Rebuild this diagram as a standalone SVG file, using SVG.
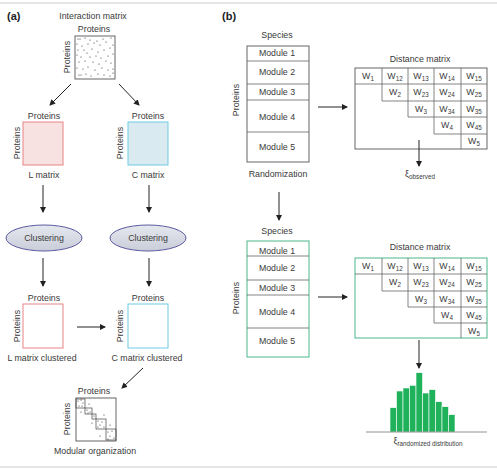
<svg xmlns="http://www.w3.org/2000/svg" width="497" height="470" viewBox="0 0 497 470">
<defs>
<marker id="ah" markerWidth="6" markerHeight="6" refX="5" refY="3" orient="auto" markerUnits="userSpaceOnUse">
<path d="M0,0 L6,3 L0,6 z" fill="#222"/>
</marker>
<linearGradient id="cg" x1="0" y1="0" x2="0" y2="1">
<stop offset="0" stop-color="#e6e8ef"/>
<stop offset="1" stop-color="#c9cdd9"/>
</linearGradient>
<style>
text{font-family:"Liberation Sans",Arial,sans-serif;fill:#3a3a3a;font-size:8.8px}
.c{text-anchor:middle}
.lab{font-weight:bold;font-size:11px;fill:#222}
.sub{font-size:6.3px}
.ar{stroke:#222;stroke-width:1;fill:none;marker-end:url(#ah)}
.box{fill:#fff;stroke:#555;stroke-width:0.9}
.gbox{fill:#fff;stroke:#4cb68c;stroke-width:1}
.ln{stroke:#666;stroke-width:0.8;fill:none}
.gln{stroke:#4cb68c;stroke-width:1;fill:none}
.dot{fill:#333}
.pink{fill:#f7e1e1;stroke:#e88383;stroke-width:1}
.pinkw{fill:#fff;stroke:#e88383;stroke-width:1}
.blue{fill:#d9eaf0;stroke:#6ccbe2;stroke-width:1}
.bluew{fill:#fff;stroke:#6ccbe2;stroke-width:1}
.ell{fill:url(#cg);stroke:#5b5ba0;stroke-width:1}
.bar{fill:#1fb25a;stroke:#fff;stroke-width:0.6}
</style>
</defs>
<line x1="0" y1="3" x2="497" y2="3" stroke="#ccc" stroke-width="1"/>
<line x1="0" y1="467" x2="497" y2="467" stroke="#ccc" stroke-width="1"/>
<text class="lab" x="7" y="20">(a)</text>
<text class="lab" x="222" y="20">(b)</text>

<g id="interaction-matrix">
<text class="c" x="93" y="19">Interaction matrix</text>
<text class="c" x="94" y="32">Proteins</text>
<text class="c" transform="translate(70,57) rotate(-90)">Proteins</text>
<rect class="box" x="75" y="36" width="40" height="43"/>
<g class="dot">
<circle cx="78" cy="39" r="0.6"/><circle cx="80" cy="39" r="0.6"/><circle cx="85" cy="38" r="0.6"/><circle cx="90" cy="40" r="0.6"/><circle cx="97" cy="41" r="0.6"/><circle cx="103" cy="39" r="0.6"/><circle cx="111" cy="38" r="0.6"/>
<circle cx="77" cy="44" r="0.6"/><circle cx="82" cy="46" r="0.6"/><circle cx="88" cy="44" r="0.6"/><circle cx="94" cy="43" r="0.6"/><circle cx="100" cy="45" r="0.6"/><circle cx="106" cy="42" r="0.6"/><circle cx="113" cy="45" r="0.6"/>
<circle cx="78" cy="50" r="0.6"/><circle cx="84" cy="50" r="0.6"/><circle cx="87" cy="53" r="0.6"/><circle cx="92" cy="49" r="0.6"/><circle cx="98" cy="52" r="0.6"/><circle cx="104" cy="50" r="0.6"/><circle cx="110" cy="48" r="0.6"/>
<circle cx="77" cy="55" r="0.6"/><circle cx="81" cy="57" r="0.6"/><circle cx="90" cy="57" r="0.6"/><circle cx="96" cy="56" r="0.6"/><circle cx="101" cy="58" r="0.6"/><circle cx="108" cy="56" r="0.6"/><circle cx="113" cy="54" r="0.6"/>
<circle cx="79" cy="62" r="0.6"/><circle cx="85" cy="61" r="0.6"/><circle cx="93" cy="62" r="0.6"/><circle cx="99" cy="64" r="0.6"/><circle cx="106" cy="61" r="0.6"/><circle cx="111" cy="63" r="0.6"/>
<circle cx="77" cy="68" r="0.6"/><circle cx="83" cy="69" r="0.6"/><circle cx="88" cy="67" r="0.6"/><circle cx="95" cy="70" r="0.6"/><circle cx="102" cy="68" r="0.6"/><circle cx="108" cy="70" r="0.6"/><circle cx="113" cy="69" r="0.6"/>
<circle cx="79" cy="75" r="0.6"/><circle cx="81" cy="75" r="0.6"/><circle cx="86" cy="74" r="0.6"/><circle cx="91" cy="76" r="0.6"/><circle cx="98" cy="74" r="0.6"/><circle cx="104" cy="75" r="0.6"/><circle cx="110" cy="76" r="0.6"/><circle cx="113" cy="73" r="0.6"/>
</g>
</g>

<g id="l-matrix">
<text class="c" x="44" y="119">Proteins</text>
<text class="c" transform="translate(20,143) rotate(-90)">Proteins</text>
<rect class="pink" x="23" y="122" width="40" height="43"/>
<text class="c" x="44" y="178">L matrix</text>
</g>
<g id="c-matrix">
<text class="c" x="148" y="119">Proteins</text>
<text class="c" transform="translate(123,143) rotate(-90)">Proteins</text>
<rect class="blue" x="128" y="122" width="40" height="43"/>
<text class="c" x="148" y="178">C matrix</text>
</g>
<g id="clustering-l">
<ellipse class="ell" cx="44" cy="238" rx="38" ry="13"/>
<text class="c" x="44" y="241">Clustering</text>
</g>
<g id="clustering-c">
<ellipse class="ell" cx="148" cy="238" rx="38" ry="13"/>
<text class="c" x="148" y="241">Clustering</text>
</g>
<g id="l-clustered">
<text class="c" x="44" y="301">Proteins</text>
<text class="c" transform="translate(20,326) rotate(-90)">Proteins</text>
<rect class="pinkw" x="23" y="304" width="40" height="44"/>
<text class="c" x="42" y="361">L matrix clustered</text>
</g>
<g id="c-clustered">
<text class="c" x="148" y="301">Proteins</text>
<text class="c" transform="translate(123,326) rotate(-90)">Proteins</text>
<rect class="bluew" x="128" y="304" width="40" height="44"/>
<text class="c" x="147" y="361">C matrix clustered</text>
</g>
<g id="modular-organization">
<text class="c" x="94" y="394">Proteins</text>
<text class="c" transform="translate(70,419) rotate(-90)">Proteins</text>
<rect class="box" x="76" y="398" width="40" height="43"/>
<g fill="none" stroke="#444" stroke-width="0.7">
<rect x="76" y="399" width="9" height="9"/>
<rect x="85" y="408" width="7" height="6"/>
<rect x="92" y="414" width="4" height="5"/>
<rect x="96" y="419" width="10" height="10"/>
<rect x="106" y="429" width="10" height="11"/>
</g>
<g class="dot">
<circle cx="78" cy="401" r="0.6"/><circle cx="81" cy="400" r="0.6"/><circle cx="83" cy="403" r="0.6"/><circle cx="79" cy="406" r="0.6"/><circle cx="82" cy="406" r="0.6"/>
<circle cx="87" cy="410" r="0.6"/><circle cx="90" cy="412" r="0.6"/><circle cx="88" cy="413" r="0.6"/>
<circle cx="94" cy="416" r="0.6"/>
<circle cx="98" cy="421" r="0.6"/><circle cx="102" cy="422" r="0.6"/><circle cx="100" cy="425" r="0.6"/><circle cx="104" cy="427" r="0.6"/><circle cx="98" cy="427" r="0.6"/>
<circle cx="108" cy="432" r="0.6"/><circle cx="112" cy="431" r="0.6"/><circle cx="110" cy="436" r="0.6"/><circle cx="114" cy="438" r="0.6"/><circle cx="108" cy="439" r="0.6"/>
<circle cx="89" cy="404" r="0.6"/><circle cx="81" cy="412" r="0.6"/><circle cx="104" cy="415" r="0.6"/><circle cx="92" cy="423" r="0.6"/><circle cx="110" cy="425" r="0.6"/><circle cx="100" cy="436" r="0.6"/>
</g>
<text class="c" x="95" y="454">Modular organization</text>
</g>

<g id="species-observed">
<text class="c" x="277" y="38">Species</text>
<text class="c" transform="translate(239,100) rotate(-90)">Proteins</text>
<rect class="box" x="247" y="46" width="62" height="116"/>
<path class="ln" d="M247,61H309M247,84H309M247,100H309M247,132H309"/>
<text class="c" x="277" y="56">Module 1</text>
<text class="c" x="277" y="75">Module 2</text>
<text class="c" x="277" y="95">Module 3</text>
<text class="c" x="277" y="120">Module 4</text>
<text class="c" x="277" y="150">Module 5</text>
<text class="c" x="278" y="177">Randomization</text>
</g>

<g id="distance-matrix-observed">
<text class="c" x="420" y="62">Distance matrix</text>
<rect class="box" x="355" y="68" width="132" height="81"/>
<path class="ln" d="M355,84H487M382,68V101H487M408,68V117H487M434,68V134H487M461,68V149"/>
<text class="c" x="368" y="79">W<tspan class="sub" dy="2">1</tspan></text>
<text class="c" x="395" y="79">W<tspan class="sub" dy="2">12</tspan></text>
<text class="c" x="421" y="79">W<tspan class="sub" dy="2">13</tspan></text>
<text class="c" x="447" y="79">W<tspan class="sub" dy="2">14</tspan></text>
<text class="c" x="474" y="79">W<tspan class="sub" dy="2">15</tspan></text>
<text class="c" x="395" y="95">W<tspan class="sub" dy="2">2</tspan></text>
<text class="c" x="421" y="95">W<tspan class="sub" dy="2">23</tspan></text>
<text class="c" x="447" y="95">W<tspan class="sub" dy="2">24</tspan></text>
<text class="c" x="474" y="95">W<tspan class="sub" dy="2">25</tspan></text>
<text class="c" x="421" y="112">W<tspan class="sub" dy="2">3</tspan></text>
<text class="c" x="447" y="112">W<tspan class="sub" dy="2">34</tspan></text>
<text class="c" x="474" y="112">W<tspan class="sub" dy="2">35</tspan></text>
<text class="c" x="447" y="128">W<tspan class="sub" dy="2">4</tspan></text>
<text class="c" x="474" y="128">W<tspan class="sub" dy="2">45</tspan></text>
<text class="c" x="474" y="144">W<tspan class="sub" dy="2">5</tspan></text>
</g>
<g id="xi-observed">
<text class="c" x="420" y="177">ξ<tspan class="sub" dy="2">observed</tspan></text>
</g>

<g id="species-randomized">
<text class="c" x="277" y="234">Species</text>
<text class="c" transform="translate(239,298) rotate(-90)">Proteins</text>
<rect class="gbox" x="247" y="241" width="62" height="116"/>
<path class="ln" d="M247,256H309M247,280H309M247,295H309M247,328H309"/>
<text class="c" x="277" y="254">Module 1</text>
<text class="c" x="277" y="271">Module 2</text>
<text class="c" x="277" y="291">Module 3</text>
<text class="c" x="277" y="315">Module 4</text>
<text class="c" x="277" y="344">Module 5</text>
</g>

<g id="distance-matrix-randomized">
<text class="c" x="420" y="250">Distance matrix</text>
<rect class="gbox" x="355" y="258" width="132" height="80"/>
<path class="ln" d="M355,274H487M382,258V291H487M408,258V307H487M434,258V323H487M461,258V338"/>
<text class="c" x="368" y="269">W<tspan class="sub" dy="2">1</tspan></text>
<text class="c" x="395" y="269">W<tspan class="sub" dy="2">12</tspan></text>
<text class="c" x="421" y="269">W<tspan class="sub" dy="2">13</tspan></text>
<text class="c" x="447" y="269">W<tspan class="sub" dy="2">14</tspan></text>
<text class="c" x="474" y="269">W<tspan class="sub" dy="2">15</tspan></text>
<text class="c" x="395" y="285">W<tspan class="sub" dy="2">2</tspan></text>
<text class="c" x="421" y="285">W<tspan class="sub" dy="2">23</tspan></text>
<text class="c" x="447" y="285">W<tspan class="sub" dy="2">24</tspan></text>
<text class="c" x="474" y="285">W<tspan class="sub" dy="2">25</tspan></text>
<text class="c" x="421" y="302">W<tspan class="sub" dy="2">3</tspan></text>
<text class="c" x="447" y="302">W<tspan class="sub" dy="2">34</tspan></text>
<text class="c" x="474" y="302">W<tspan class="sub" dy="2">35</tspan></text>
<text class="c" x="447" y="318">W<tspan class="sub" dy="2">4</tspan></text>
<text class="c" x="474" y="318">W<tspan class="sub" dy="2">45</tspan></text>
<text class="c" x="474" y="334">W<tspan class="sub" dy="2">5</tspan></text>
</g>

<g id="histogram">
<rect class="bar" x="390" y="407.7" width="6.5" height="24.3"/>
<rect class="bar" x="396.5" y="391" width="6.5" height="41"/>
<rect class="bar" x="403" y="388" width="6.5" height="44"/>
<rect class="bar" x="409.5" y="385.3" width="6.5" height="46.7"/>
<rect class="bar" x="416" y="372.7" width="6.5" height="59.3"/>
<rect class="bar" x="422.5" y="393" width="6.5" height="39"/>
<rect class="bar" x="429" y="389.7" width="6.5" height="42.3"/>
<rect class="bar" x="435.5" y="401.7" width="6.5" height="30.3"/>
<rect class="bar" x="442" y="406.7" width="6.5" height="25.3"/>
<rect class="bar" x="448.5" y="414.7" width="6.5" height="17.3"/>
<line x1="366" y1="432" x2="487" y2="432" stroke="#777" stroke-width="0.8"/>
<text class="c" x="428" y="444">ξ<tspan class="sub" dy="2">randomized distribution</tspan></text>
</g>

<g id="connectors">
<line class="ar" x1="71" y1="84" x2="50" y2="105"/>
<line class="ar" x1="119" y1="84" x2="139" y2="105"/>
<line class="ar" x1="43" y1="185" x2="43" y2="212"/>
<line class="ar" x1="149" y1="185" x2="149" y2="212"/>
<line class="ar" x1="43" y1="258" x2="43" y2="286"/>
<line class="ar" x1="149" y1="258" x2="149" y2="286"/>
<line class="ar" x1="77" y1="327" x2="105" y2="327"/>
<line class="ar" x1="143" y1="368" x2="122" y2="388"/>
<line class="ar" x1="318" y1="107" x2="347" y2="107"/>
<line class="ar" x1="419" y1="140" x2="419" y2="166"/>
<line class="ar" x1="279" y1="192" x2="279" y2="220"/>
<line class="ar" x1="318" y1="297" x2="347" y2="297"/>
<line class="ar" x1="419" y1="340" x2="419" y2="368"/>
</g>
</svg>
